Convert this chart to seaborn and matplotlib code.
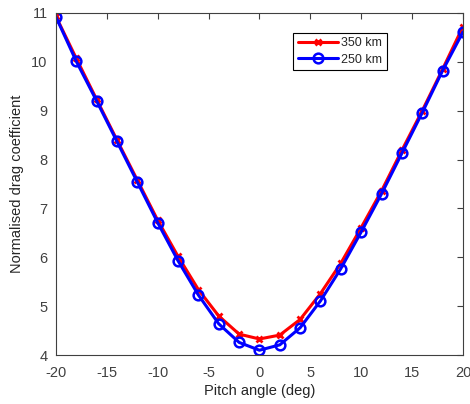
import numpy as np
import pandas as pd
import seaborn as sns
import matplotlib
matplotlib.use('Agg')
import matplotlib.pyplot as plt

# pitch angle (deg)
pitch = [-20, -18, -16, -14, -12, -10, -8, -6, -4, -2, 0, 2, 4, 6, 8, 10, 12, 14, 16, 18, 20]
# normalised drag coefficient
cd_350 = [10.93, 10.07, 9.23, 8.40, 7.58, 6.76, 6.02, 5.34, 4.80, 4.43, 4.33, 4.41, 4.73, 5.26, 5.88, 6.61, 7.36, 8.19, 9.00, 9.85, 10.72]
cd_250 = [10.92, 10.01, 9.20, 8.37, 7.54, 6.71, 5.93, 5.23, 4.64, 4.26, 4.10, 4.21, 4.56, 5.11, 5.77, 6.52, 7.30, 8.13, 8.96, 9.82, 10.61]

df = pd.DataFrame({'pitch': pitch, '350 km': cd_350, '250 km': cd_250})

sns.set_style('white')
plt.rcParams['font.family'] = ['Liberation Sans', 'DejaVu Sans']
plt.rcParams['axes.unicode_minus'] = False

fig = plt.figure(figsize=(4.7, 4.04), dpi=100)
ax = fig.add_axes([0.119, 0.121, 0.866, 0.847])

sns.lineplot(data=df, x='pitch', y='350 km', ax=ax, color='#ff0000', linewidth=2.2,
             marker='x', markersize=5, markeredgewidth=2, markeredgecolor='#ff0000',
             label='350 km')
sns.lineplot(data=df, x='pitch', y='250 km', ax=ax, color='#0000ff', linewidth=2.2,
             marker='o', markersize=7, markeredgewidth=1.8, markerfacecolor='none',
             markeredgecolor='#0000ff', label='250 km')

ax.set_xlim(-20, 20)
ax.set_ylim(4, 11)
ax.set_xticks(range(-20, 21, 5))
ax.set_yticks(range(4, 12))
ax.set_xlabel('Pitch angle (deg)', fontsize=10.5, color='#262626', labelpad=3)
ax.set_ylabel('Normalised drag coefficient', fontsize=10.5, color='#262626', labelpad=5)
ax.tick_params(direction='in', length=4, width=0.8, top=True, right=True,
               labelsize=10.5, colors='#404040', labelcolor='#404040')
ax.tick_params(axis='x', pad=8)
ax.tick_params(axis='y', pad=6)
for s in ax.spines.values():
    s.set_color('#404040')
    s.set_linewidth(0.8)

leg = ax.legend(loc='upper left', bbox_to_anchor=(0.583, 0.941), fontsize=9,
                frameon=True, fancybox=False, edgecolor='black', framealpha=1,
                handlelength=3.2, borderpad=0.35, labelspacing=0.35, handletextpad=0.3,
                borderaxespad=0)
leg.get_frame().set_linewidth(0.8)

fig.savefig('out.png', dpi=100)
